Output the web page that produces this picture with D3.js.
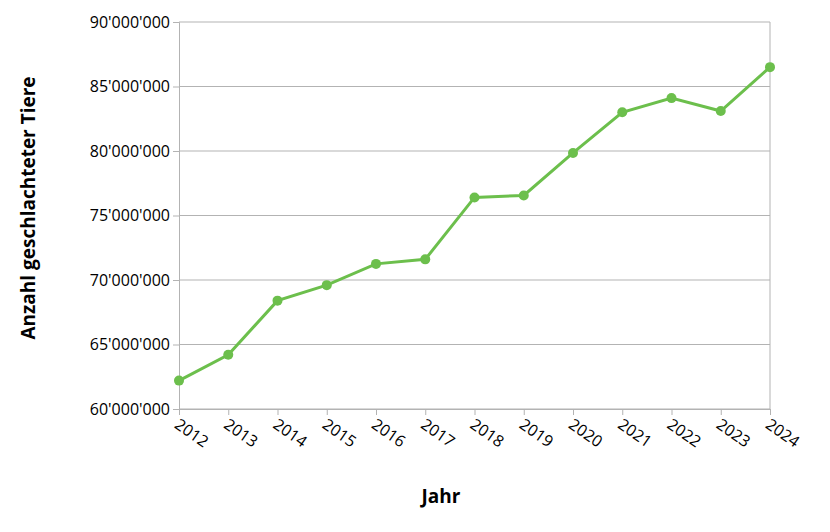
<!DOCTYPE html>
<html><head><meta charset="utf-8">
<script src="https://cdn.jsdelivr.net/npm/d3@7"></script>
<style>body{margin:0;background:#fff;font-family:"Open Sans",sans-serif}</style>
</head><body><div id="chart" style="width:830px;height:532px"></div>
<script>
const years = [2012,2013,2014,2015,2016,2017,2018,2019,2020,2021,2022,2023,2024];
const values = [62200000,64200000,68400000,69600000,71250000,71600000,76400000,76550000,79850000,83000000,84100000,83100000,86500000];
const yTicks = [60000000,65000000,70000000,75000000,80000000,85000000,90000000];

const margin = {left:179, top:22, right:60, bottom:123};
const width = 830, height = 532;
const iw = width - margin.left - margin.right, ih = height - margin.top - margin.bottom;

const svg = d3.select("#chart").append("svg").attr("width", width).attr("height", height);
const g = svg.append("g").attr("transform", `translate(${margin.left},${margin.top})`);

const x = d3.scalePoint().domain(years).range([0, iw]);
const y = d3.scaleLinear().domain([60000000, 90000000]).range([ih, 0]);
const fmt = d => d3.format(",")(d).replace(/,/g, "'");

// gridlines
g.append("g").selectAll("line").data(yTicks).join("line")
  .attr("x1", 0).attr("x2", iw).attr("y1", d => y(d)).attr("y2", d => y(d))
  .attr("stroke", "#b3b3b3").attr("stroke-width", 1);
g.append("line").attr("x1", iw).attr("x2", iw).attr("y1", 0).attr("y2", ih).attr("stroke", "#b3b3b3");

// y axis
const ya = g.append("g").call(d3.axisLeft(y).tickValues(yTicks).tickFormat(fmt).tickSize(6));
ya.select(".domain").attr("stroke", "#b3b3b3");
ya.selectAll(".tick line").attr("stroke", "#b3b3b3");
ya.selectAll("text").attr("font-size", 16).attr("fill", "#000").attr("font-family", "Open Sans");

// x axis
const xa = g.append("g").attr("transform", `translate(0,${ih})`).call(d3.axisBottom(x).tickSize(6));
xa.select(".domain").attr("stroke", "#b3b3b3");
xa.selectAll(".tick line").attr("stroke", "#b3b3b3");
xa.selectAll("text").attr("font-size", 16).attr("fill", "#000").attr("font-family", "Open Sans")
  .attr("text-anchor", "start").attr("dy", 0).attr("y", 0)
  .attr("transform", "translate(-6,18) rotate(35)");

// line
g.append("path").datum(values)
  .attr("fill", "none").attr("stroke", "#6cbf4c").attr("stroke-width", 3)
  .attr("d", d3.line().x((d, i) => x(years[i])).y(d => y(d)));
g.selectAll("circle").data(values).join("circle")
  .attr("cx", (d, i) => x(years[i])).attr("cy", d => y(d)).attr("r", 5).attr("fill", "#6cbf4c");

// axis titles
svg.append("text").attr("x", 441).attr("y", 503).attr("text-anchor", "middle")
  .attr("font-size", 19).attr("font-weight", "bold").text("Jahr");
svg.append("text").attr("transform", "translate(35,208) rotate(-90)").attr("text-anchor", "middle")
  .attr("font-size", 19).attr("font-weight", "bold").text("Anzahl geschlachteter Tiere");
</script></body></html>
